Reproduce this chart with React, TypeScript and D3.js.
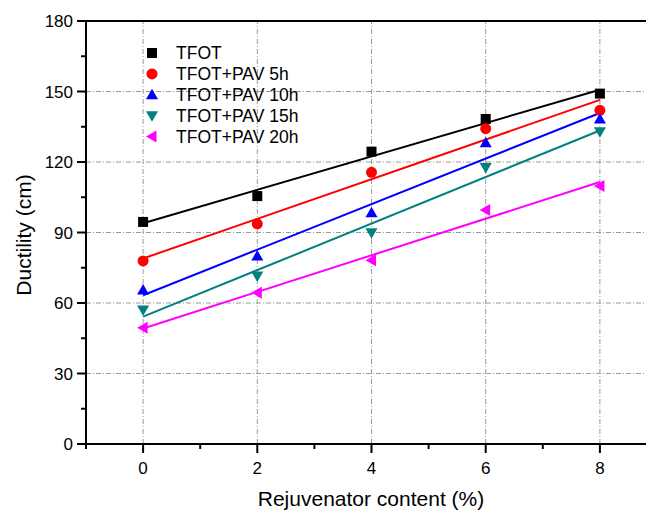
import React from "react";
import * as d3 from "d3";

const contents = [0, 2, 4, 6, 8];
const seriesNames = ["TFOT", "TFOT+PAV 5h", "TFOT+PAV 10h", "TFOT+PAV 15h", "TFOT+PAV 20h"];
const tfot = [94.5, 105.5, 124.4, 138.3, 149.1];
const pav5 = [77.9, 93.7, 115.6, 134.2, 142.0];
const pav10 = [65.5, 80.0, 98.4, 128.2, 138.3];
const pav15 = [57.0, 71.5, 89.9, 117.7, 132.9];
const pav20 = [49.5, 64.4, 78.2, 99.6, 109.8];
const colors = ["#000000", "#ff0000", "#0000ff", "#008080", "#ff00ff"];
const shapes = ["square", "circle", "up", "down", "left"];
const xTicks = [0, 2, 4, 6, 8];
const yTicks = [0, 30, 60, 90, 120, 150, 180];

const W = 646, H = 510;
const x = d3.scaleLinear().domain([-1, 9]).range([86, 657]);
const y = d3.scaleLinear().domain([0, 180]).range([444, 21]);

function fit(xs: number[], ys: number[]) {
  const mx = d3.mean(xs)!, my = d3.mean(ys)!;
  let num = 0, den = 0;
  xs.forEach((v, i) => { num += (v - mx) * (ys[i] - my); den += (v - mx) ** 2; });
  const b = num / den;
  return { a: my - b * mx, b };
}

function Marker({ shape, cx, cy, color }: { shape: string; cx: number; cy: number; color: string }) {
  const s = 6;
  if (shape === "square") return <rect x={cx - 5} y={cy - 5} width={10} height={10} fill={color} />;
  if (shape === "circle") return <circle cx={cx} cy={cy} r={5.5} fill={color} />;
  let pts = "";
  if (shape === "up") pts = `${cx},${cy - s} ${cx - s},${cy + s * 0.75} ${cx + s},${cy + s * 0.75}`;
  if (shape === "down") pts = `${cx},${cy + s} ${cx - s},${cy - s * 0.75} ${cx + s},${cy - s * 0.75}`;
  if (shape === "left") pts = `${cx - s},${cy} ${cx + s * 0.75},${cy - s} ${cx + s * 0.75},${cy + s}`;
  return <polygon points={pts} fill={color} />;
}

export default function App() {
  const series = [tfot, pav5, pav10, pav15, pav20];
  const font = "'Liberation Sans', Arial, sans-serif";
  const grid = "#9a9a9a";
  const dash = "5,2,1,2";
  const xMinor = d3.range(-1, 10, 1).filter((v) => v % 2 !== 0);
  const yMinor = d3.range(15, 180, 30);
  const line = d3.line<[number, number]>().x((d) => x(d[0])).y((d) => y(d[1]));
  return (
    <svg width={W} height={H} style={{ position: "absolute", left: 0, top: 0, background: "#fff" }} fontFamily={font}>
      {/* grid */}
      {xTicks.map((t) => (
        <line key={"gx" + t} x1={x(t)} x2={x(t)} y1={y(0)} y2={y(180)} stroke={grid} strokeWidth={1} strokeDasharray={dash} />
      ))}
      {yTicks.filter((t) => t > 0 && t < 180).map((t) => (
        <line key={"gy" + t} x1={x(-1)} x2={x(9)} y1={y(t)} y2={y(t)} stroke={grid} strokeWidth={1} strokeDasharray={dash} />
      ))}
      {/* fit lines */}
      {series.map((ys, i) => {
        const f = fit(contents, ys);
        const pts: [number, number][] = [[0, f.a], [8, f.a + 8 * f.b]];
        return <path key={"l" + i} d={line(pts)!} stroke={colors[i]} strokeWidth={2} fill="none" />;
      })}
      {/* markers */}
      {series.map((ys, i) =>
        ys.map((v, j) => <Marker key={`m${i}-${j}`} shape={shapes[i]} cx={x(contents[j])} cy={y(v)} color={colors[i]} />)
      )}
      {/* frame */}
      <line x1={x(-1)} x2={x(9)} y1={y(180)} y2={y(180)} stroke="#000" strokeWidth={2} />
      <line x1={x(9)} x2={x(9)} y1={y(180)} y2={y(0)} stroke="#000" strokeWidth={2} />
      <line x1={x(-1)} x2={x(-1)} y1={y(180) - 1} y2={y(0) + 1} stroke="#000" strokeWidth={2} />
      <line x1={x(-1) - 1} x2={x(9)} y1={y(0)} y2={y(0)} stroke="#000" strokeWidth={2} />
      {/* x ticks */}
      {xTicks.map((t) => (
        <g key={"xt" + t}>
          <line x1={x(t)} x2={x(t)} y1={y(0)} y2={y(0) + 9} stroke="#000" strokeWidth={2} />
          <text x={x(t)} y={474} textAnchor="middle" fontSize={17}>{t}</text>
        </g>
      ))}
      {xMinor.map((t) => (
        <line key={"xm" + t} x1={x(t)} x2={x(t)} y1={y(0)} y2={y(0) + 5} stroke="#000" strokeWidth={2} />
      ))}
      {/* y ticks */}
      {yTicks.map((t) => (
        <g key={"yt" + t}>
          <line x1={x(-1) - 9} x2={x(-1)} y1={y(t)} y2={y(t)} stroke="#000" strokeWidth={2} />
          <text x={73} y={y(t) + 6} textAnchor="end" fontSize={17}>{t}</text>
        </g>
      ))}
      {yMinor.map((t) => (
        <line key={"ym" + t} x1={x(-1) - 5} x2={x(-1)} y1={y(t)} y2={y(t)} stroke="#000" strokeWidth={2} />
      ))}
      {/* axis titles */}
      <text x={371} y={506} textAnchor="middle" fontSize={21}>Rejuvenator content (%)</text>
      <text transform={`translate(31,235) rotate(-90)`} textAnchor="middle" fontSize={21}>Ductility (cm)</text>
      {/* legend */}
      {seriesNames.map((n, i) => {
        const ly = 53 + i * 20.9;
        return (
          <g key={"lg" + i}>
            <Marker shape={shapes[i]} cx={152} cy={ly} color={colors[i]} />
            <text x={176} y={ly + 6} fontSize={17.5}>{n}</text>
          </g>
        );
      })}
    </svg>
  );
}
